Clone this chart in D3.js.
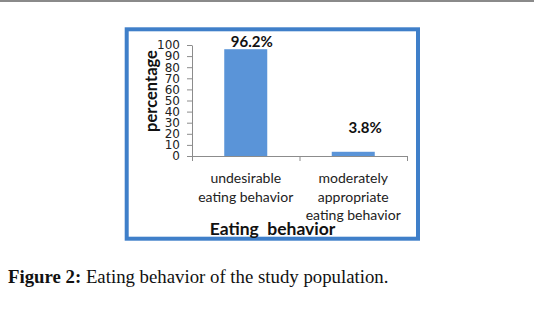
<!DOCTYPE html>
<html>
<head>
<meta charset="utf-8">
<script src="https://cdn.jsdelivr.net/npm/d3@7"></script>
<style>
  body { margin: 0; background: #fff; }
  svg { display: block; }
</style>
</head>
<body>
<div id="chart"></div>
<script>
// Chart data
var categories = ["undesirable|eating behavior", "moderately|appropriate|eating behavior"];
var values = [96.2, 3.8];
var valueLabels = ["96.2%", "3.8%"];
var yTicks = [0, 10, 20, 30, 40, 50, 60, 70, 80, 90, 100];

const W = 534, H = 315;
const plot = { left: 192, right: 407, top: 45, bottom: 156 };

var svg = d3.select("#chart").append("svg")
    .attr("width", W)
    .attr("height", H);

svg.append("rect").attr("width", W).attr("height", H).attr("fill", "#fff");

// grey rule at the very top of the page
svg.append("line")
    .attr("x1", 0).attr("x2", W).attr("y1", 1).attr("y2", 1)
    .attr("stroke", "#8a8a8a").attr("stroke-width", 2);

// blue chart frame
svg.append("rect")
    .attr("x", 126.7).attr("y", 29.3)
    .attr("width", 291.3).attr("height", 209.4)
    .attr("fill", "none")
    .attr("stroke", "#3f7fc9")
    .attr("stroke-width", 4);

// scales
const y = d3.scaleLinear()
    .domain([0, 100])
    .range([plot.bottom, plot.top]);

const x = d3.scaleBand()
    .domain(categories)
    .range([plot.left, plot.right])
    .paddingInner(0.6)
    .paddingOuter(0.3);

// category boundaries for the x axis ticks (Excel style)
const xEdge = d3.scaleLinear()
    .domain([0, categories.length])
    .range([plot.left, plot.right]);

// bars
svg.selectAll(".bar")
    .data(values)
    .enter().append("rect")
    .attr("class", "bar")
    .attr("x", (d, i) => x(categories[i]))
    .attr("y", d => y(d))
    .attr("width", x.bandwidth())
    .attr("height", d => y(0) - y(d))
    .attr("fill", "#5a94d8");

// y axis
var yAxis = svg.append("g")
    .attr("transform", "translate(" + plot.left + ",0)")
    .call(d3.axisLeft(y).tickValues(yTicks).tickSize(5).tickSizeOuter(0).tickPadding(7));
yAxis.select(".domain").attr("stroke", "#8c8c8c");
yAxis.selectAll(".tick line").attr("stroke", "#8c8c8c");
yAxis.selectAll(".tick text")
    .attr("fill", "#222")
    .style("font-family", "'DejaVu Sans', sans-serif")
    .style("font-size", "12px");

// x axis
var xAxis = svg.append("g")
    .attr("transform", "translate(0," + plot.bottom + ")")
    .call(d3.axisBottom(xEdge).tickValues(d3.range(categories.length + 1)).tickFormat("").tickSize(5).tickSizeOuter(0));
xAxis.select(".domain").attr("stroke", "#8c8c8c");
xAxis.selectAll(".tick line").attr("stroke", "#8c8c8c");

// category labels (multi line)
svg.selectAll(".catLabel")
    .data(categories)
    .enter().append("text")
    .attr("class", "catLabel")
    .attr("text-anchor", "middle")
    .attr("fill", "#222")
    .style("font-family", "Lato, 'Open Sans', sans-serif")
    .style("font-size", "14px")
    .each(function (d) {
        var t = d3.select(this);
        d.split("|").forEach(function (line, j) {
            t.append("tspan")
                .attr("x", x(d) + x.bandwidth() / 2)
                .attr("y", 183 + j * 18.5)
                .text(line);
        });
    });

// value labels (positions taken from the original, second one was nudged right)
var labelOffset = [{ dx: 6, y: 47 }, { dx: 12, y: 133 }];
svg.selectAll(".valLabel")
    .data(values)
    .enter().append("text")
    .attr("class", "valLabel")
    .attr("x", (d, i) => x(categories[i]) + x.bandwidth() / 2 + labelOffset[i].dx)
    .attr("y", (d, i) => labelOffset[i].y)
    .attr("text-anchor", "middle")
    .attr("fill", "#111")
    .style("font-family", "Lato, 'Open Sans', sans-serif")
    .style("font-weight", "bold")
    .style("font-size", "15px")
    .text((d, i) => valueLabels[i]);

// y axis title
svg.append("text")
    .attr("transform", "translate(157,91) rotate(-90)")
    .attr("text-anchor", "middle")
    .attr("fill", "#111")
    .style("font-family", "Lato, 'Open Sans', sans-serif")
    .style("font-weight", "bold")
    .style("font-size", "16.5px")
    .text("percentage");

// x axis title
svg.append("text")
    .attr("x", 272.5)
    .attr("y", 235)
    .attr("text-anchor", "middle")
    .attr("fill", "#111")
    .style("font-family", "Lato, 'Open Sans', sans-serif")
    .style("font-weight", "bold")
    .style("font-size", "17.5px")
    .style("white-space", "pre")
    .text("Eating  behavior");

// caption below the chart
var cap = svg.append("text")
    .attr("x", 8)
    .attr("y", 283)
    .attr("fill", "#111")
    .style("font-family", "'Liberation Serif', 'DejaVu Serif', serif")
    .style("font-size", "18.8px");
cap.append("tspan").style("font-weight", "bold").text("Figure 2:");
cap.append("tspan").text(" Eating behavior of the study population.");
</script>
</body>
</html>
